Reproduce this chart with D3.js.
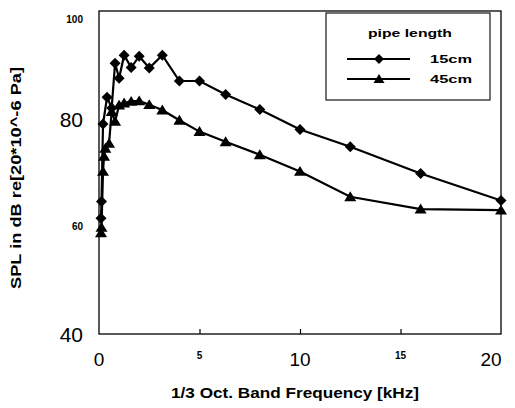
<html>
    <head>
        <title>SPL vs 1/3 octave band frequency</title>
        <script type="text/javascript" src="https://cdn.jsdelivr.net/npm/d3@7"></script>
        <style type="text/css">
            body { margin: 0; background: #fff; }
            text { font-family: "Liberation Sans", Arial, sans-serif; fill: #000; }
        </style>
    </head>
    <body>
        <script type="text/javascript">

            // 1/3 octave band centres in kHz
            var freq15 = [0.1, 0.125, 0.2, 0.4, 0.63, 0.8, 1, 1.25, 1.6, 2, 2.5, 3.15, 4, 5, 6.3, 8, 10, 12.5, 16, 20];
            var spl15  = [61.5, 64.6, 79, 84, 82, 90.3, 87.5, 91.8, 89.5, 91.6, 89.4, 91.8, 87, 87, 84.5, 81.7, 78, 74.8, 69.8, 64.8];

            var freq45 = [0.1, 0.125, 0.2, 0.25, 0.315, 0.5, 0.63, 0.8, 1, 1.25, 1.6, 2, 2.5, 3.15, 4, 5, 6.3, 8, 10, 12.5, 16, 20];
            var spl45  = [58.8, 59.8, 70.2, 73, 74.5, 75.4, 81.3, 79.5, 82.5, 82.9, 83.2, 83.3, 82.6, 81.6, 79.7, 77.6, 75.7, 73.3, 70.2, 65.5, 63.2, 63.0];

            var seriesNames = ['15cm', '45cm'];
            var xTicks = [0, 5, 10, 15, 20];
            var yTicks = [40, 60, 80, 100];

            var width = 515, height = 408;
            var margin = {top: 11, right: 14, bottom: 74, left: 99};

            var svg = d3.select('body').append('svg')
                .attr('width', width)
                .attr('height', height);

            var xScale = d3.scaleLinear().domain([0, 20]).range([margin.left, width - margin.right]);
            var yScale = d3.scaleLinear().domain([40, 100]).range([height - margin.bottom, margin.top]);

            function diamond(r) { return 'M0,' + (-r) + 'L' + r + ',0L0,' + r + 'L' + (-r) + ',0Z'; }
            function triangle(r) { return 'M0,' + (-r) + 'L' + (r + 0.5) + ',' + (r * 0.8) + 'L' + (-r - 0.5) + ',' + (r * 0.8) + 'Z'; }

            // frame
            svg.append('rect')
                .attr('x', xScale(0)).attr('y', yScale(100))
                .attr('width', xScale(20) - xScale(0))
                .attr('height', yScale(40) - yScale(100))
                .attr('fill', 'none').attr('stroke', '#000').attr('stroke-width', 1.3);

            // x axis (inward ticks), labels drawn by hand for their odd sizes
            var xAxis = d3.axisBottom(xScale).tickValues([5, 10, 15]).tickSize(-5).tickFormat('');
            var gx = svg.append('g').attr('transform', 'translate(0,' + yScale(40) + ')').call(xAxis);
            gx.select('.domain').remove();
            gx.selectAll('line').attr('stroke-width', 1.2);

            svg.append('g').selectAll('text').data(xTicks).enter().append('text')
                .attr('x', function(d) { return xScale(d) + (d === 20 ? -10 : 0); })
                .attr('y', function(d) { return d % 10 === 0 ? 366 : 359; })
                .attr('text-anchor', 'middle')
                .style('font-size', function(d) { return d % 10 === 0 ? '19px' : '10px'; })
                .style('font-weight', function(d) { return d % 10 === 0 ? 'normal' : 'bold'; })
                .text(function(d) { return d; });

            svg.append('g').selectAll('text').data(yTicks).enter().append('text')
                .attr('x', 83)
                .attr('y', function(d) { return d === 100 ? yScale(d) + 12 : (d === 60 ? yScale(d) + 4 : yScale(d) + 8); })
                .attr('text-anchor', 'end')
                .style('font-size', function(d) { return d % 40 === 0 ? '21px' : '10px'; })
                .style('font-weight', function(d) { return d % 40 === 0 ? 'normal' : 'bold'; })
                .text(function(d) { return d; });

            // axis titles
            svg.append('text')
                .attr('x', 295).attr('y', 398)
                .attr('text-anchor', 'middle')
                .attr('textLength', 248).attr('lengthAdjust', 'spacingAndGlyphs')
                .style('font-size', '15px').style('font-weight', 'bold')
                .text('1/3 Oct. Band Frequency [kHz]');

            svg.append('text')
                .attr('transform', 'translate(21,178) rotate(-90)')
                .attr('text-anchor', 'middle')
                .attr('textLength', 222).attr('lengthAdjust', 'spacingAndGlyphs')
                .style('font-size', '15px').style('font-weight', 'bold')
                .text('SPL in dB re[20*10^-6 Pa]');

            var line = d3.line()
                .x(function(d) { return xScale(d[0]); })
                .y(function(d) { return yScale(d[1]); });

            var data15 = d3.zip(freq15, spl15);
            var data45 = d3.zip(freq45, spl45);

            [[data45, triangle], [data15, diamond]].forEach(function(s) {
                var g = svg.append('g');
                g.append('path').datum(s[0])
                    .attr('d', line)
                    .attr('fill', 'none').attr('stroke', '#000').attr('stroke-width', 2.2);
                g.selectAll('path.m').data(s[0]).enter().append('path')
                    .attr('class', 'm')
                    .attr('transform', function(d) { return 'translate(' + xScale(d[0]) + ',' + yScale(d[1]) + ')'; })
                    .attr('d', s[1](5.5))
                    .attr('fill', '#000');
            });

            // legend
            var lg = svg.append('g');
            lg.append('rect')
                .attr('x', 326).attr('y', 13).attr('width', 164).attr('height', 87)
                .attr('fill', '#fff').attr('stroke', '#000').attr('stroke-width', 1.1);
            lg.append('text')
                .attr('x', 410).attr('y', 37)
                .attr('text-anchor', 'middle')
                .attr('textLength', 84).attr('lengthAdjust', 'spacingAndGlyphs')
                .style('font-size', '11px').style('font-weight', 'bold')
                .text('pipe length');
            var shapes = [diamond, triangle];
            seriesNames.forEach(function(name, i) {
                var y = 59 + i * 20;
                lg.append('line')
                    .attr('x1', 347).attr('x2', 410).attr('y1', y).attr('y2', y)
                    .attr('stroke', '#000').attr('stroke-width', 1.8);
                lg.append('path')
                    .attr('transform', 'translate(379,' + y + ')')
                    .attr('d', shapes[i](5))
                    .attr('fill', '#000');
                lg.append('text')
                    .attr('x', 430).attr('y', y + 4)
                    .attr('textLength', 42).attr('lengthAdjust', 'spacingAndGlyphs')
                    .style('font-size', '11px').style('font-weight', 'bold')
                    .text(name);
            });

        </script>
    </body>
</html>
